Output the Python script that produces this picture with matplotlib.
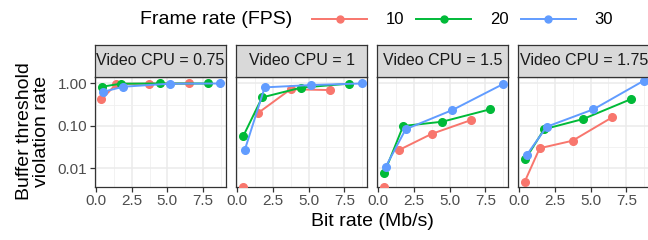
import matplotlib
matplotlib.use("Agg")
import matplotlib.pyplot as plt
from matplotlib.lines import Line2D
from matplotlib.ticker import FixedLocator, FuncFormatter
import numpy as np

plt.rcParams['font.family'] = ['Liberation Sans', 'DejaVu Sans']

# ---------------- data ----------------
panels = ["Video CPU = 0.75", "Video CPU = 1", "Video CPU = 1.5", "Video CPU = 1.75"]
fps_labels = ["10", "20", "30"]
colors = ["#F8766D", "#00BA38", "#619CFF"]

# bit rate (Mb/s) per frame rate
bitrate_10 = [0.38, 1.43, 3.73, 6.51]
bitrate_20 = [0.43, 1.74, 4.48, 7.84]
bitrate_30 = [0.52, 1.92, 5.20, 8.72]

# violation rate per panel (0 = no violation, shown at panel bottom)
cpu075_10 = [0.42, 0.98, 0.99, 1.00]
cpu075_20 = [0.84, 0.99, 1.00, 1.00]
cpu075_30 = [0.64, 0.84, 0.99, 1.00]

cpu1_10 = [0.0, 0.199, 0.73, 0.70]
cpu1_20 = [0.059, 0.47, 0.80, 0.99]
cpu1_30 = [0.027, 0.81, 0.92, 1.00]

cpu15_10 = [0.0, 0.027, 0.065, 0.138]
cpu15_20 = [0.008, 0.100, 0.126, 0.247]
cpu15_30 = [0.011, 0.084, 0.238, 0.96]

cpu175_10 = [0.0049, 0.030, 0.045, 0.160]
cpu175_20 = [0.0165, 0.084, 0.146, 0.43]
cpu175_30 = [0.0208, 0.096, 0.247, 1.16]

bitrates = [bitrate_10, bitrate_20, bitrate_30]
rates = [
    [cpu075_10, cpu075_20, cpu075_30],
    [cpu1_10, cpu1_20, cpu1_30],
    [cpu15_10, cpu15_20, cpu15_30],
    [cpu175_10, cpu175_20, cpu175_30],
]

xticks = [0.0, 2.5, 5.0, 7.5]
xminor = [1.25, 3.75, 6.25, 8.75]
yticks = [0.01, 0.1, 1.0]
yminor = [10 ** -2.5, 10 ** -1.5, 10 ** -0.5]

# ---------------- layout ----------------
W, H = 648, 240
fig = plt.figure(figsize=(W / 100, H / 100), dpi=100)

panel_left = [95, 236.3, 377.3, 518.3]
panel_w = 130.7
panel_top, panel_bot = 76.5, 186.5
strip_top = 45

border = "#333333"
tick_col = "#4D4D4D"

for i, name in enumerate(panels):
    l = panel_left[i]
    ax = fig.add_axes([l / W, 1 - panel_bot / H, panel_w / W, (panel_bot - panel_top) / H])
    ax.set_yscale('log')
    ax.set_xlim(-0.07, 9.09)
    ax.set_ylim(0.00377, 1.46)
    ax.set_facecolor("white")
    ax.xaxis.set_major_locator(FixedLocator(xticks))
    ax.xaxis.set_minor_locator(FixedLocator(xminor))
    ax.yaxis.set_major_locator(FixedLocator(yticks))
    ax.yaxis.set_minor_locator(FixedLocator(yminor))
    ax.yaxis.set_major_formatter(FuncFormatter(lambda v, p: f"{v:.2f}"))
    ax.xaxis.set_major_formatter(FuncFormatter(lambda v, p: f"{v:.1f}"))
    ax.grid(True, which='major', color="#EBEBEB", lw=1.1, zorder=0)
    ax.grid(True, which='minor', color="#F0F0F0", lw=0.6, zorder=0)
    ax.set_axisbelow(True)
    for s in ax.spines.values():
        s.set_color(border)
        s.set_linewidth(0.9)
    ax.tick_params(which='major', length=3.5, width=0.9, color=border,
                   labelsize=11, labelcolor=tick_col, pad=2)
    ax.tick_params(which='minor', length=0)
    if i > 0:
        ax.tick_params(axis='y', labelleft=False, length=0)

    for k in range(3):
        xs = np.array(bitrates[k])
        ys = np.array(rates[i][k])
        pos = ys > 0
        ax.plot(xs[pos], ys[pos], '-o', color=colors[k], lw=1.4, ms=5.5,
                zorder=3, clip_on=True)
        if (~pos).any():
            ax.plot(xs[~pos], np.zeros((~pos).sum()), 'o', color=colors[k], ms=5.5,
                    transform=ax.get_xaxis_transform(), clip_on=True, zorder=3)

    # strip
    sax = fig.add_axes([l / W, 1 - panel_top / H, panel_w / W, (panel_top - strip_top) / H])
    sax.set_facecolor("#D9D9D9")
    sax.set_xticks([])
    sax.set_yticks([])
    for s in sax.spines.values():
        s.set_color(border)
        s.set_linewidth(0.9)
    sax.text(0.5, 0.5, name, ha='center', va='center', fontsize=11.5,
             color="#1A1A1A", transform=sax.transAxes)

# axis titles
fig.text((95 + 649) / 2 / W, 1 - 222 / H, "Bit rate (Mb/s)", ha='center', va='center',
         fontsize=14, color="black")
fig.text(33 / W, 1 - (panel_top + panel_bot) / 2 / H, "Buffer threshold\nviolation rate",
         ha='center', va='center', rotation=90, fontsize=14, color="black",
         linespacing=1.05)

# legend
fig.text(140 / W, 1 - 20 / H, "Frame rate (FPS)", ha='left', va='center', fontsize=14)
handles = [Line2D([], [], color=c, marker='o', lw=1.4, ms=5) for c in colors]
fig.legend(handles, fps_labels, loc='center left', bbox_to_anchor=(312 / W, 1 - 20 / H),
           ncol=3, frameon=False, fontsize=12, handlelength=3.3, handletextpad=1.1,
           columnspacing=0.75, borderpad=0, borderaxespad=0)

fig.savefig("out.png", dpi=100)
